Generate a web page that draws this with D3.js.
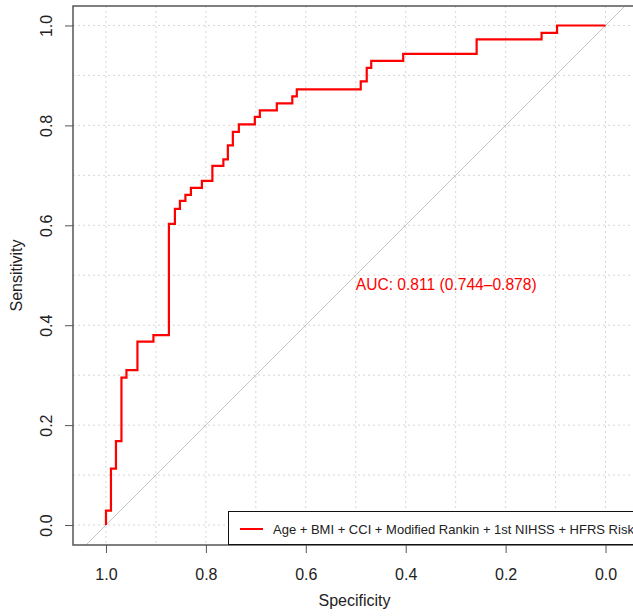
<!DOCTYPE html>
<html>
<head>
<meta charset="utf-8">
<script src="https://cdn.jsdelivr.net/npm/d3@7"></script>
<style>
  html, body { margin: 0; padding: 0; background: #fff; }
  svg { display: block; font-family: Arial, "Liberation Sans", sans-serif; }
</style>
</head>
<body>
<svg id="chart" width="633" height="616"></svg>
<script>
// ---- Data ----
const specificity = [1, 0.990, 0.980, 0.969, 0.959, 0.937, 0.905, 0.874, 0.862, 0.852, 0.841, 0.830, 0.808, 0.787, 0.765, 0.756, 0.746, 0.734, 0.702, 0.692, 0.658, 0.627, 0.618, 0.490, 0.478, 0.469, 0.405, 0.258, 0.128, 0.097, 0];
const sensitivity = [0, 0.029, 0.113, 0.168, 0.295, 0.310, 0.367, 0.380, 0.603, 0.633, 0.649, 0.661, 0.675, 0.689, 0.719, 0.732, 0.760, 0.787, 0.802, 0.817, 0.830, 0.844, 0.858, 0.872, 0.888, 0.915, 0.929, 0.943, 0.972, 0.985, 1.0];
const tickValues = [1.0, 0.8, 0.6, 0.4, 0.2, 0.0];
const gridValues = [0, 0.1, 0.2, 0.3, 0.4, 0.5, 0.6, 0.7, 0.8, 0.9, 1.0];
const xLimits = [1.066, -0.061];
const yLimits = [-0.04, 1.039];
const legendLabel = "Age + BMI + CCI + Modified Rankin + 1st NIHSS + HFRS Risk";
const aucLabel = "AUC: 0.811 (0.744\u20130.878)";
const aucPos = {spec: 0.5, sens: 0.482};

// ---- Layout ----
const svg = d3.select("#chart");
const L = 73, R = 636, T = 6, B = 545;
const x = d3.scaleLinear().domain(xLimits).range([L, R]);
const y = d3.scaleLinear().domain(yLimits).range([B, T]);

svg.append("defs").append("clipPath").attr("id", "clip")
  .append("rect").attr("x", L).attr("y", T).attr("width", R - L).attr("height", B - T);

const plot = svg.append("g").attr("clip-path", "url(#clip)");

// grid
plot.selectAll("line.gx").data(gridValues).join("line")
  .attr("x1", d => x(d)).attr("x2", d => x(d)).attr("y1", T).attr("y2", B)
  .attr("stroke", "#d6d6d6").attr("stroke-width", 1).attr("stroke-dasharray", "2,3");
plot.selectAll("line.gy").data(gridValues).join("line")
  .attr("y1", d => y(d)).attr("y2", d => y(d)).attr("x1", L).attr("x2", R)
  .attr("stroke", "#d6d6d6").attr("stroke-width", 1).attr("stroke-dasharray", "2,3");

// identity line
plot.append("line")
  .attr("x1", x(xLimits[0])).attr("y1", y(1 - xLimits[0]))
  .attr("x2", x(xLimits[1])).attr("y2", y(1 - xLimits[1]))
  .attr("stroke", "#c4c4c4").attr("stroke-width", 1);

// ROC curve
const pts = specificity.map((s, i) => [s, sensitivity[i]]);
plot.append("path").datum(pts)
  .attr("fill", "none").attr("stroke", "#ff0000").attr("stroke-width", 2.2)
  .attr("d", d3.line().x(d => x(d[0])).y(d => y(d[1])).curve(d3.curveStepBefore));

// AUC text
svg.append("text").attr("x", x(aucPos.spec)).attr("y", y(aucPos.sens))
  .attr("dominant-baseline", "central").attr("fill", "#ff0000")
  .attr("font-size", 15.6).text(aucLabel);

// axes
const axisColor = "#555";
const xAxis = svg.append("g").attr("transform", `translate(0,${B})`)
  .call(d3.axisBottom(x).tickValues(tickValues).tickSize(8).tickFormat(d3.format(".1f")));
xAxis.select(".domain").remove();
xAxis.selectAll(".tick line").attr("stroke", axisColor);
xAxis.selectAll(".tick text").attr("y", 35).attr("dy", 0)
  .attr("font-size", 16).attr("fill", "#222").attr("font-family", "Arial, 'Liberation Sans', sans-serif");

const yAxis = svg.append("g").attr("transform", `translate(${L},0)`)
  .call(d3.axisLeft(y).tickValues(tickValues).tickSize(8).tickFormat(d3.format(".1f")));
yAxis.select(".domain").remove();
yAxis.selectAll(".tick line").attr("stroke", axisColor);
yAxis.selectAll(".tick text")
  .attr("x", 0).attr("y", 0).attr("dy", 0)
  .attr("transform", "translate(-21,0) rotate(-90)")
  .attr("text-anchor", "middle")
  .attr("font-size", 16).attr("fill", "#222").attr("font-family", "Arial, 'Liberation Sans', sans-serif");

// box
svg.append("rect").attr("x", L).attr("y", T).attr("width", R - L).attr("height", B - T)
  .attr("fill", "none").attr("stroke", axisColor).attr("stroke-width", 1.5);

// axis titles
svg.append("text").attr("x", (L + R) / 2).attr("y", 606).attr("text-anchor", "middle")
  .attr("font-size", 16).attr("fill", "#222").text("Specificity");
svg.append("text").attr("transform", `translate(22,${(T + B) / 2}) rotate(-90)`)
  .attr("text-anchor", "middle").attr("font-size", 16).attr("fill", "#222").text("Sensitivity");

// legend
const lg = svg.append("g");
lg.append("rect").attr("x", 228.5).attr("y", 511.5).attr("width", 420).attr("height", 33)
  .attr("fill", "#fff").attr("stroke", "#111").attr("stroke-width", 1);
lg.append("line").attr("x1", 240).attr("x2", 263).attr("y1", 529).attr("y2", 529)
  .attr("stroke", "#ff0000").attr("stroke-width", 2);
lg.append("text").attr("x", 273).attr("y", 529).attr("dominant-baseline", "central")
  .attr("font-size", 13).attr("fill", "#222").text(legendLabel);
</script>
</body>
</html>
